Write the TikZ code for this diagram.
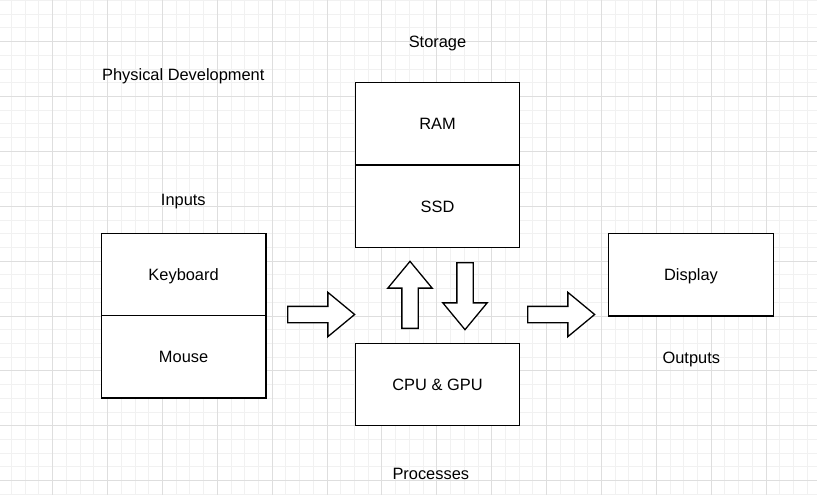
\documentclass[tikz,border=0pt]{standalone}
\usepackage{fontspec}
\setmainfont{Liberation Sans}
\usepackage{xcolor}
\usepackage{tikz}
\usetikzlibrary{shapes.geometric, shapes.arrows, arrows.meta, calc}

\definecolor{gridminor}{RGB}{241,241,241}
\definecolor{gridmajor}{RGB}{222,222,222}

\begin{document}
\begin{tikzpicture}[x=1pt, y=-1pt, line width=1.3pt,
  every node/.style={font=\fontsize{16.4}{19}\selectfont, text height=11.7pt, text depth=0pt, inner sep=0pt},
  box/.style={rectangle, draw, fill=white, minimum width=164.6pt, minimum height=82.3pt},
  blockarrow/.style={single arrow, draw, fill=white, inner sep=7.5pt, text height=0pt, minimum height=67pt, minimum width=43pt, single arrow head extend=14pt, single arrow tip angle=79.2, anchor=tail}]
\useasboundingbox (0,0) rectangle (817,495);

% grid
\foreach \i in {0,...,60} {
  \draw[gridminor, line width=1pt] (-2.2+13.72*\i,0) -- (-2.2+13.72*\i,495);
}
\foreach \i in {0,...,36} {
  \draw[gridminor, line width=1pt] (0,0.5+13.72*\i) -- (817,0.5+13.72*\i);
}
\foreach \i in {0,...,14} {
  \draw[gridmajor, line width=1pt] (52.7+54.88*\i,0) -- (52.7+54.88*\i,495);
}
\foreach \i in {-1,...,8} {
  \draw[gridmajor, line width=1pt] (0,41.7+54.88*\i) -- (817,41.7+54.88*\i);
}

\node(phys) at (183.3,74.9) {Physical Development};
\node(storage) at (437.5,41.5) {Storage};
\node(inputs) at (183.3,199.2) {Inputs};
\node(processes) at (430.8,473.2) {Processes};
\node(outputs) at (691.3,357.5) {Outputs};

\node(keyboard)[box] at (183.6,274.9) {Keyboard};
\node(mouse)[box] at (183.6,356.9) {Mouse};
\node(ram)[box] at (437.5,123.7) {RAM};
\node(ssd)[box] at (437.5,206.3) {SSD};
\node(cpu)[box] at (437.5,384.5) {CPU \& GPU};
\node(display)[box] at (691,274.9) {Display};

\node(in2cpu)[blockarrow] at (287,314.5) {};
\node(cpu2out)[blockarrow] at (527,314.5) {};
\node(cpu2mem)[blockarrow, shape border rotate=90] at (410,329) {};
\node(mem2cpu)[blockarrow, shape border rotate=270] at (465,262) {};
\end{tikzpicture}
\end{document}
